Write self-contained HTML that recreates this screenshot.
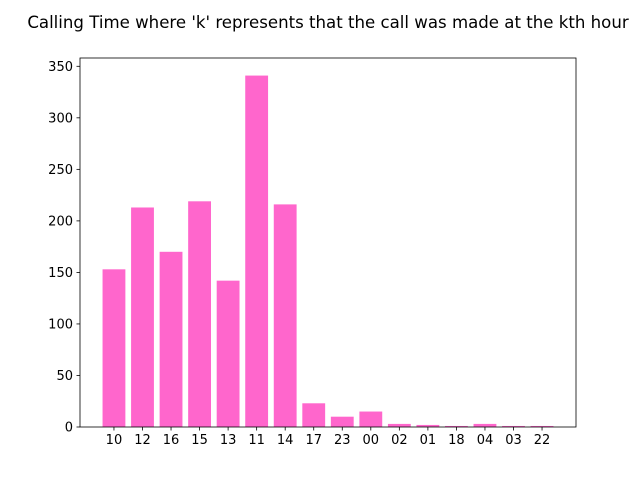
<!DOCTYPE html>
<html><head><meta charset="utf-8"><style>
body{margin:0;background:#fff;}
svg text{font-family:"DejaVu Sans","Liberation Sans",sans-serif;}
</style></head><body>
<svg id="chart" width="640" height="480" xmlns="http://www.w3.org/2000/svg">
<rect width="640" height="480" fill="#fff"/>
<text x="328" y="28" font-size="16.6" text-anchor="middle">Calling Time where 'k' represents that the call was made at the kth hour</text>
<g id="bars"></g><g id="axes"></g>
</svg>
<script>
const categories=["10","12","16","15","13","11","14","17","23","00","02","01","18","04","03","22"];
const values=[153,213,170,219,142,341,216,23,10,15,3,2,1,3,1,1];
const yTicks=[0,50,100,150,200,250,300,350];
const L=80,R=576,T=58,B=427;
const n=categories.length;
const xmin=-0.4-0.05*(n-0.2),xmax=n-1+0.4+0.05*(n-0.2);
const ymax=Math.max(...values)*1.05;
function xs(v){return L+(v-xmin)/(xmax-xmin)*(R-L);}
function ys(v){return B-v/ymax*(B-T);}
const NS="http://www.w3.org/2000/svg";
const bars=document.getElementById('bars'),axes=document.getElementById('axes');
function mk(tag,attrs,parent){const e=document.createElementNS(NS,tag);for(const k in attrs)e.setAttribute(k,attrs[k]);parent.appendChild(e);return e;}
values.forEach((v,i)=>{
 const r=mk('rect',{x:xs(i-0.4),y:ys(v),width:xs(i+0.4)-xs(i-0.4),height:B-ys(v),fill:'#ff66cc'},bars);
 
 
 const t=mk('line',{x1:xs(i),x2:xs(i),y1:B,y2:B+3.5,stroke:'#000','stroke-width':0.8},axes);
 
 
 const l=mk('text',{x:xs(i),y:B+17,'font-size':13,'text-anchor':'middle'},axes);
 l.textContent=categories[i];
 
 
});
yTicks.forEach(v=>{
 const t=mk('line',{x1:L-3.5,x2:L,y1:ys(v),y2:ys(v),stroke:'#000','stroke-width':0.8},axes);
 
 
 const l=mk('text',{x:L-7,y:ys(v)+4.5,'font-size':13,'text-anchor':'end'},axes);
 l.textContent=v;
 
 
});
const f=mk('rect',{x:L,y:T,width:R-L,height:B-T,fill:'none',stroke:'#000','stroke-width':0.8},axes);


</script>
</body></html>
